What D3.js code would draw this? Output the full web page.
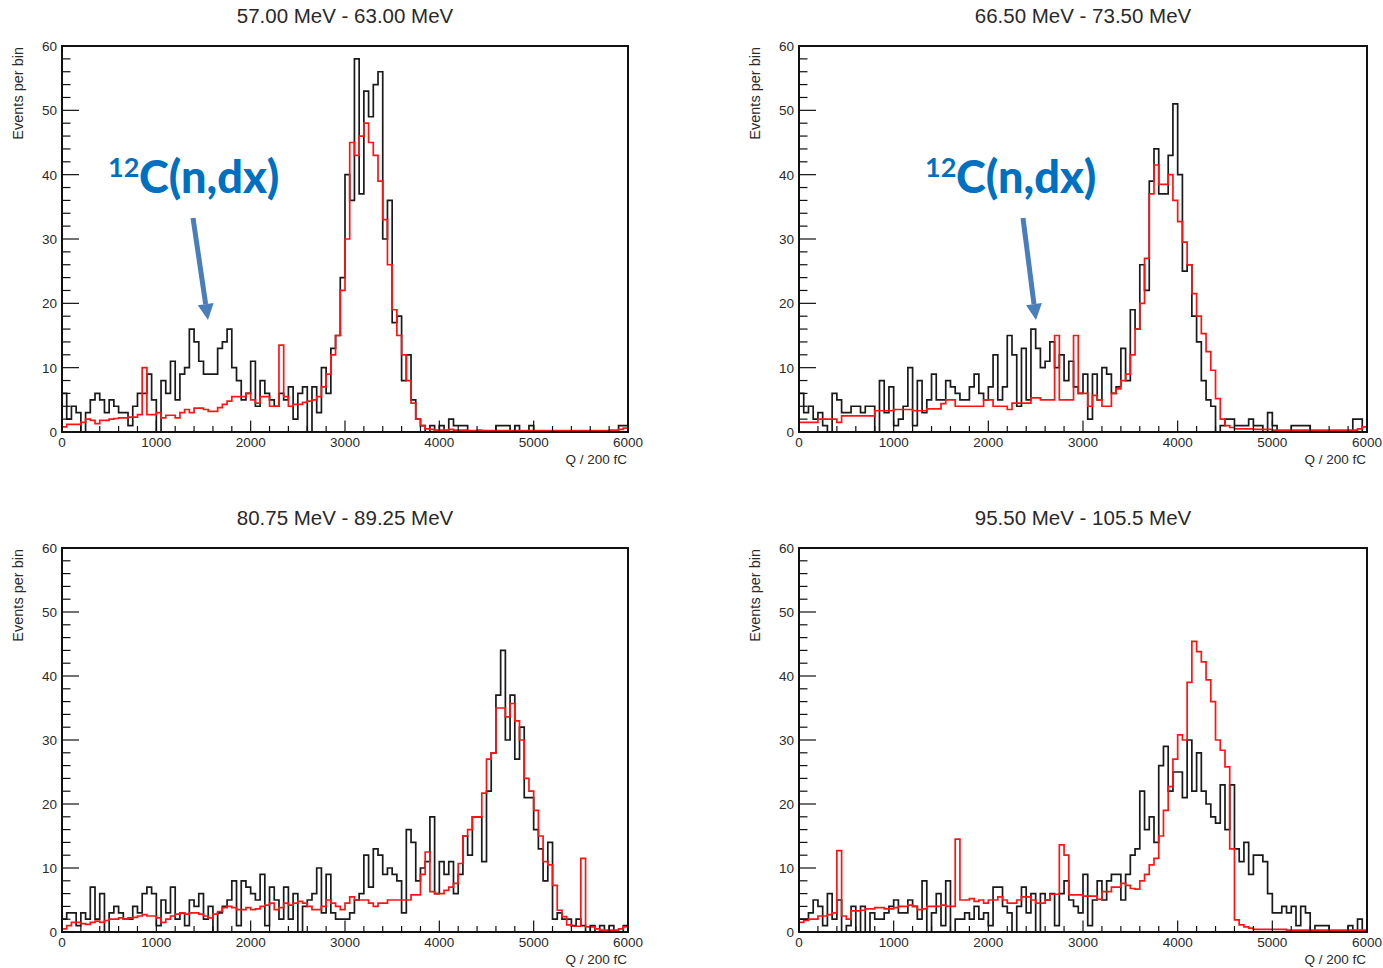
<!DOCTYPE html>
<html><head><meta charset="utf-8">
<script src="https://cdn.jsdelivr.net/npm/d3@7"></script>
<style>body{margin:0;background:#fff;} svg{display:block;}</style>
</head><body>
<svg id="c" width="1383" height="968"></svg>
<script>
// ---- data ----
const titles = ["57.00 MeV - 63.00 MeV", "66.50 MeV - 73.50 MeV", "80.75 MeV - 89.25 MeV", "95.50 MeV - 105.5 MeV"];
const xTicks = [0, 1000, 2000, 3000, 4000, 5000, 6000];
const yTicks = [0, 10, 20, 30, 40, 50, 60];
const xLabel = "Q / 200 fC";
const yLabel = "Events per bin";
const binWidth = 50;

const tlBlack = [6,2,4,3,0,3,5,6,5,3, 5,4,3,3,1,4,6,6,9,5, 0,8,6,11,5,9,10,16,14,11,
 9,9,9,13,14,16,10,8,5,6, 11,4,8,6,5,4,6,5,7,2, 6,7,0,7,3,10,6,13,15,24,
 40,36,58,37,53,49,54,56,30,36, 17,18,8,12,5,2,1,0,1,0, 1,0,2,1,1,1,0,0,0,0,
 0,0,1,1,1,0,1,0,0,1, 0,0,0,0,0,0,0,0,0,0, 0,0,0,0,0,0,0,0,1,1];
const tlRed = [0.8,1.2,1.2,1.2,1.5,2,1.8,1.3,1.8,1.8, 2,2.1,2.2,2.2,2.3,2.3,2.7,10,2.7,2.7,
 3,2.2,2.6,2.6,2.2,3,3.5,3,3.7,3.7, 3.5,3.2,3.2,3.8,4.3,4.8,5.5,5.5,5.5,6,
 5,4.5,5.5,5.5,4,4,13.5,5.5,4,4.3, 4.3,4.6,4.8,5,5.5,7,9,12,15,22,
 30,45,43,46,48,45,43,39,33,26, 19,15,12,8,4.5,2,1,0.5,0.4,0.3,
 0.3,0.3,0.4,0.3,0.3,0.3,0.2,0.2,0.3,0.2, 0.2,0.2,0.2,0.2,0.2,0.2,0.2,0.2,0.2,0.2,
 0.2,0.2,0.2,0.2,0.2,0.2,0.2,0.2,0.2,0.2, 0.2,0.2,0.2,0.2,0.2,0.2,0.3,0.3,0.4,0.6];

const trBlack = [6,3,4,2,3,1,0,6,5,3, 3,4,4,3,4,4,0,8,3,7, 1,2,4,10,1,8,3,5,9,5,
 5,8,7,6,5,5,7,9,6,5, 7,12,5,7,15,12,4,13,5,16, 13,10,11,14,10,12,8,11,7,6,
 9,2,9,5,10,9,6,7,13,8, 19,16,26,22,39,44,37,37,43,51, 40,25,26,18,14,8,5,4,0,1,
 2,2,1,1,1,2,1,1,0,3, 1,0,0,0,1,1,1,1,0,0, 0,0,0,0,0,0,0,2,2,0];
const trRed = [1.5,1.5,1.5,1.5,2,2,2,2,1.5,2.5, 2.5,2.5,2.5,2.5,2.5,2.5,3.3,3.3,3.3,3.3,
 3.5,3.5,3.5,3.5,3.3,3.3,3.3,3.6,3.6,3.6, 4.4,5,5,4,4,4,4,4,4,5,
 5,4,4,4,3.5,4.5,4.5,4.5,4.5,5.3, 5.3,5,5,5,15,5,5,5,15,6,
 6,4,5.7,5,4,4,6,6.7,8,9, 12,16,20,27,37,41.5,38.5,38.5,40,36,
 32.7,29.5,26,21.5,18,15.3,12.5,9.6,5.2,2, 1,0.7,0.5,0.5,0.5,0.5,0.4,0.4,0.4,0.4,
 0.3,0.3,0.3,0.3,0.3,0.3,0.3,0.3,0.3,0.3, 0.3,0.3,0.3,0.3,0.3,0.3,0.3,0.3,0.5,0.8];

const blBlack = [2,3,3,1,3,2,7,2,6,0, 3,4,3,2,2,4,3,6,7,6, 1,5,3,7,2,3,1,5,4,6,
 2,4,0,3,4,5,8,1,8,7, 6,5,9,1,7,5,2,7,2,6, 0,4,5,6,10,3,9,3,2,2,
 2,3,5,6,12,7,13,12,9,10, 9,8,3,16,14,8,10,11,18,6, 11,9,11,6,9,15,12,18,18,11,
 22,28,37,44,30,37,27,32,21,21, 16,13,8,14,2,3,2,2,1,2, 1,0,1,0,1,0,1,0,0,1];
const blRed = [0.5,1,1.5,1.5,1.3,1.2,1.5,1.7,1.5,1.8, 2,2,2.2,2,2.2,2.3,2.5,2.7,2.5,2.5,
 2.2,1.5,2,2.5,2.8,3,2.8,3,3,2.8, 2.5,2.2,2.8,3.2,3.8,4,3.8,3.5,3.5,3.8,
 3.5,3.6,4,4.2,4.5,3.5,3.8,4.5,4.2,4.5, 4.8,4.5,4,3.5,3.5,4,5,4.5,4,3.5,
 4.5,5.5,5,5,5,4.5,4,4.5,4.5,5, 5,5,5,5,5.8,5.8,9,12.5,6.3,6,
 6,6.5,7,7.6,10.7,15,16,18,18,21.7, 27,28,35,35,33.6,35.7,33,30,24,22,
 19,15,11,10.5,7.3,3.4,2.4,1.1,0.9,0.9, 11.5,0.8,0.8,0.5,0.3,0.3,0.3,0.3,0.5,0.8];

const brBlack = [2,2,3,5,4,1,6,2,5,0, 1,4,0,4,0,3,2,2,3,4, 5,3,3,5,4,2,8,0,3,6,
 1,8,0,2,2,3,2,4,2,3, 1,7,7,4,3,0,4,7,3,6, 0,6,5,6,1,6,8,5,4,3,
 9,1,5,8,5,8,9,9,5,9, 12,13,22,16,18,14,26,29,22,25, 25,21,30,22,28,22,20,18,17,23,
 16,23,13,11,14,9,12,12,11,6, 3,3,4,3,4,1,4,3,0,1, 1,1,0,0,0,0,1,0,2,0];
const brRed = [1.5,1.8,2,2,2.5,2.5,2.7,3,12.7,2.5, 2,3.3,3.3,3.4,3.6,3.6,3.8,3.8,3.6,3.6,
 3.8,4,4,4.2,4,3.5,3.6,4,4,4, 4.2,4,4,14.5,5,5,5.2,4.8,5,4.5,
 5,5,5.5,5,4.5,4.5,5,5.5,5.5,5, 4.5,4.5,5,5.9,5.9,13.6,12,5.8,5.8,5.8,
 5.6,5.6,5.6,5.1,6.3,6.3,7,7,7.6,7.3, 6.8,6.7,8,9,10.5,11.5,15,19,22.7,27,
 30.8,30,39,45.4,43.8,42.2,39.4,36,30,28.4, 25.8,13,1.9,1.1,0.8,0.6,0.4,0.4,0.4,0.4,
 0.4,0.4,0.4,0.3,0.3,0.3,0.3,0.3,0.3,0.3, 0.3,0.3,0.3,0.3,0.3,0.3,0.3,0.3,0.3,0.3];

const annotationText = {sup: "12", main: "C(n,dx)"};

// ---- layout ----
const panels = [
  {title: titles[0], black: tlBlack, red: tlRed, left: 62, right: 628, top: 46, bottom: 432,
   annot: {supX: 108, mainX: 139, base: 193, ax0: 193, ay0: 218, ax1: 208, ay1: 320}},
  {title: titles[1], black: trBlack, red: trRed, left: 799, right: 1367, top: 46, bottom: 432,
   annot: {supX: 925, mainX: 956, base: 193, ax0: 1023, ay0: 218, ax1: 1036, ay1: 320}},
  {title: titles[2], black: blBlack, red: blRed, left: 62, right: 628, top: 548, bottom: 932},
  {title: titles[3], black: brBlack, red: brRed, left: 799, right: 1367, top: 548, bottom: 932}
];

const svg = d3.select("#c");
const font = "'Liberation Sans', Arial, Helvetica, sans-serif";
const textCol = "#2a2a2a";

function histPoints(vals) {
  const pts = [[0, 0]];
  vals.forEach((v, i) => { pts.push([i * binWidth, v]); pts.push([(i + 1) * binWidth, v]); });
  pts.push([vals.length * binWidth, 0]);
  return pts;
}

panels.forEach(p => {
  const x = d3.scaleLinear().domain([0, 6000]).range([p.left, p.right]);
  const y = d3.scaleLinear().domain([0, 60]).range([p.bottom, p.top]);
  const g = svg.append("g");

  // title
  g.append("text").attr("x", (p.left + p.right) / 2).attr("y", p.top - 23)
    .attr("text-anchor", "middle").attr("font-family", font).attr("font-size", 20.5)
    .attr("fill", textCol).text(p.title);

  const line = d3.line().x(d => x(d[0])).y(d => y(d[1]));
  const clipId = "clip" + p.left + "_" + p.top;
  svg.append("clipPath").attr("id", clipId).append("rect")
    .attr("x", p.left).attr("y", p.top).attr("width", p.right - p.left).attr("height", p.bottom - p.top);

  g.append("path").attr("d", line(histPoints(p.black))).attr("fill", "none")
    .attr("stroke", "#1a1a1a").attr("stroke-width", 1.7).attr("clip-path", `url(#${clipId})`);
  g.append("path").attr("d", line(histPoints(p.red))).attr("fill", "none")
    .attr("stroke", "#ff1414").attr("stroke-width", 1.7).attr("clip-path", `url(#${clipId})`);

  // x axis ticks (inward)
  const xMinor = d3.range(0, 6001, 200);
  g.selectAll(".xt").data(xMinor).enter().append("line")
    .attr("x1", d => x(d)).attr("x2", d => x(d))
    .attr("y1", p.bottom).attr("y2", d => p.bottom - (d % 1000 === 0 ? 11.5 : 6))
    .attr("stroke", "#111").attr("stroke-width", 1.2);
  g.selectAll(".xl").data(xTicks).enter().append("text")
    .attr("x", d => x(d)).attr("y", p.bottom + 15).attr("text-anchor", "middle")
    .attr("font-family", font).attr("font-size", 13.5).attr("fill", textCol).text(d => d);

  // y axis ticks (inward)
  const yMinor = d3.range(0, 61, 2);
  g.selectAll(".yt").data(yMinor).enter().append("line")
    .attr("y1", d => y(d)).attr("y2", d => y(d))
    .attr("x1", p.left).attr("x2", d => p.left + (d % 10 === 0 ? 17 : 8.5))
    .attr("stroke", "#111").attr("stroke-width", 1.2);
  g.selectAll(".yl").data(yTicks).enter().append("text")
    .attr("x", p.left - 5).attr("y", d => y(d) + 5).attr("text-anchor", "end")
    .attr("font-family", font).attr("font-size", 13.5).attr("fill", textCol).text(d => d);

  // frame
  g.append("rect").attr("x", p.left).attr("y", p.top).attr("width", p.right - p.left)
    .attr("height", p.bottom - p.top).attr("fill", "none").attr("stroke", "#111").attr("stroke-width", 2);

  // axis titles
  g.append("text").attr("transform", `translate(${p.left - 39},${p.top + 1}) rotate(-90)`)
    .attr("text-anchor", "end").attr("font-family", font).attr("font-size", 14.5)
    .attr("fill", textCol).text(yLabel);
  g.append("text").attr("x", p.right - 1).attr("y", p.bottom + 32).attr("text-anchor", "end")
    .attr("font-family", font).attr("font-size", 13.5).attr("fill", textCol).text(xLabel);

  // annotation
  if (p.annot) {
    const a = p.annot;
    g.append("text").attr("x", a.supX).attr("y", a.base - 16).attr("font-family", "Lato, 'Open Sans', sans-serif")
      .attr("font-weight", "bold").attr("font-size", 27).attr("fill", "#0070c0").text(annotationText.sup);
    g.append("text").attr("x", a.mainX).attr("y", a.base).attr("font-family", "Lato, 'Open Sans', sans-serif")
      .attr("font-weight", "900").attr("font-size", 45).attr("fill", "#0070c0").text(annotationText.main);
    const dx = a.ax1 - a.ax0, dy = a.ay1 - a.ay0, len = Math.hypot(dx, dy);
    const ux = dx / len, uy = dy / len, nx = -uy, ny = ux;
    const hl = 16, hw = 8;
    const bx = a.ax1 - ux * hl, by = a.ay1 - uy * hl;
    g.append("line").attr("x1", a.ax0).attr("y1", a.ay0).attr("x2", bx).attr("y2", by)
      .attr("stroke", "#4a7ebb").attr("stroke-width", 5);
    g.append("polygon").attr("points", [[a.ax1, a.ay1], [bx + nx * hw, by + ny * hw], [bx - nx * hw, by - ny * hw]].map(q => q.join(",")).join(" "))
      .attr("fill", "#4a7ebb");
  }
});
</script>
</body></html>
